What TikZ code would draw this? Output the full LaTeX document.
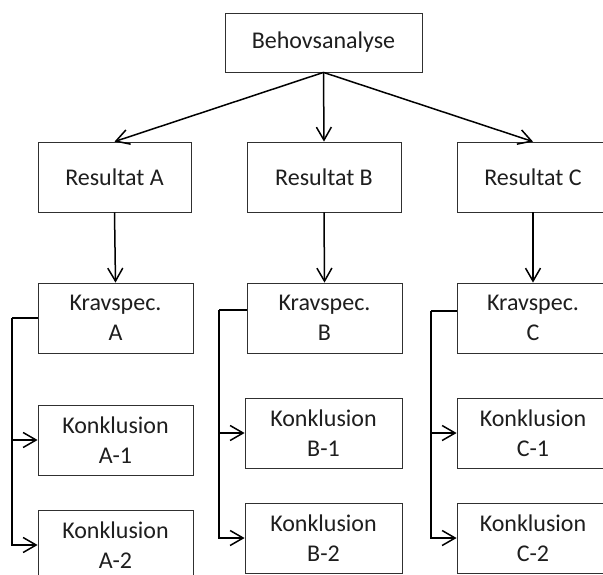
\documentclass[tikz,border=0pt]{standalone}
\usepackage{fontspec}
\setmainfont{Carlito}
\usetikzlibrary{arrows.meta}
\definecolor{txt}{HTML}{1E1E1E}
\definecolor{edge}{HTML}{303030}
\tikzset{
  box/.style={draw=edge, line width=0.8pt, rectangle, inner sep=0pt, align=center,
    text=txt, font=\fontsize{24}{30}\selectfont, fill=white},
  conn/.style={line width=1.5pt, black},
  arr/.style={conn, -{Straight Barb[length=13pt,width=15pt,line width=1.5pt]}},
}
\begin{document}
\begin{tikzpicture}[x=1pt,y=-1pt]
\useasboundingbox (0,0) rectangle (603,574);
\clip (0,0) rectangle (603,574);
% top
\node[box, minimum width=197pt, minimum height=59pt] (beh) at (323.5,42.5) {Behovsanalyse};
% results
\node[box, minimum width=153pt, minimum height=70pt] (resA) at (114.5,177) {Resultat A};
\node[box, minimum width=154pt, minimum height=70pt] (resB) at (324,177) {Resultat B};
\node[box, minimum width=152pt, minimum height=70pt] (resC) at (533,177) {Resultat C};
% kravspec
\node[box, minimum width=155pt, minimum height=70pt] (kravA) at (115.5,318) {Kravspec.\\A};
\node[box, minimum width=155pt, minimum height=70pt] (kravB) at (324.5,318) {Kravspec.\\B};
\node[box, minimum width=152pt, minimum height=70pt] (kravC) at (533,318) {Kravspec.\\C};
% konklusion
\node[box, minimum width=155pt, minimum height=70pt] (konA1) at (115.5,440) {Konklusion\\A-1};
\node[box, minimum width=155pt, minimum height=70pt] (konA2) at (115.5,545) {Konklusion\\A-2};
\node[box, minimum width=157pt, minimum height=70pt] (konB1) at (323.5,433) {Konklusion\\B-1};
\node[box, minimum width=157pt, minimum height=70pt] (konB2) at (323.5,538) {Konklusion\\B-2};
\node[box, minimum width=152pt, minimum height=70pt] (konC1) at (533,433) {Konklusion\\C-1};
\node[box, minimum width=152pt, minimum height=70pt] (konC2) at (533,538) {Konklusion\\C-2};
% top arrows
\draw[arr] (beh.south) -- (resA.north);
\draw[arr] (beh.south) -- (resB.north);
\draw[arr] (beh.south) -- (resC.north);
% result to kravspec
\draw[arr] (resA.south) -- (kravA.north);
\draw[arr] (resB.south) -- (kravB.north);
\draw[arr] (resC.south) -- (kravC.north);
% branch points
\coordinate (tA) at (12,318);
\coordinate (tB) at (219,310);
\coordinate (tC) at (431,311);
\draw[conn] (tA -| kravA.west) -- (tA);
\draw[arr] (tA) |- (konA1.west);
\draw[arr] (tA) |- (konA2.west);
\draw[conn] (tB -| kravB.west) -- (tB);
\draw[arr] (tB) |- (konB1.west);
\draw[arr] (tB) |- (konB2.west);
\draw[conn] (tC -| kravC.west) -- (tC);
\draw[arr] (tC) |- (konC1.west);
\draw[arr] (tC) |- (konC2.west);
\end{tikzpicture}
\end{document}
